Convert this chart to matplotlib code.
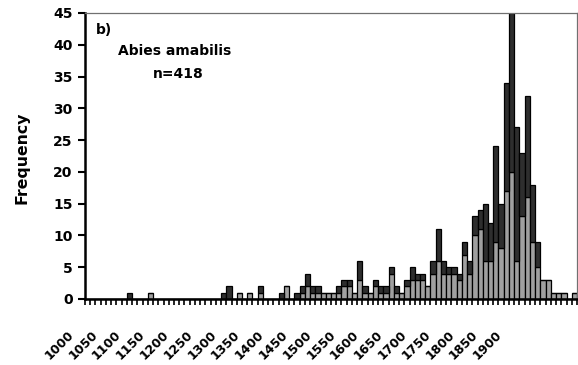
import numpy as np
import matplotlib
matplotlib.use("Agg")
import matplotlib.pyplot as plt
from matplotlib.transforms import ScaledTranslation

# 10-year classes, 1000 ... 1930
decades = np.arange(1000, 1940, 10)

# lower (light grey) part of each bar
light = [0, 0, 0, 0, 0, 0, 0, 0, 0, 0,
         0, 0, 1, 0, 0, 0, 0, 0, 0, 0,
         0, 0, 0, 0, 0, 0, 0, 0, 0, 1,
         0, 1, 0, 1, 0, 0, 0, 0, 2, 0,
         0, 1, 2, 1, 1, 1, 1, 1, 1, 2,
         2, 1, 3, 1, 1, 2, 1, 1, 4, 1,
         1, 2, 3, 3, 3, 2, 4, 6, 4, 4,
         4, 3, 7, 4, 10, 11, 6, 6, 9, 8,
         17, 20, 6, 13, 16, 9, 5, 3, 3, 1,
         1, 1, 0, 1]

# upper (dark grey) part of each bar
dark = [0, 0, 0, 0, 0, 0, 0, 0, 1, 0,
        0, 0, 0, 0, 0, 0, 0, 0, 0, 0,
        0, 0, 0, 0, 0, 0, 1, 2, 0, 0,
        0, 0, 0, 1, 0, 0, 0, 1, 0, 0,
        1, 1, 2, 1, 1, 0, 0, 0, 1, 1,
        1, 0, 3, 1, 0, 1, 1, 1, 1, 1,
        0, 1, 2, 1, 1, 0, 2, 5, 2, 1,
        1, 1, 2, 2, 3, 3, 9, 6, 15, 7,
        17, 25, 21, 10, 16, 9, 4, 0, 0, 0,
        0, 0, 0, 0]

label_years = np.arange(1000, 1901, 50)
y_ticks = np.arange(0, 46, 5)

plt.rcParams["font.family"] = ["DejaVu Sans"]
plt.rcParams["font.weight"] = "bold"

W, H = 578, 365
fig = plt.figure(figsize=(W / 100, H / 100), dpi=100)
ax = fig.add_axes([85 / W, 1 - 299 / H, 492 / W, 286 / H])

x = np.arange(len(decades))
ax.bar(x, light, width=1, align="edge", color="#a0a0a0",
       edgecolor="black", linewidth=0.9)
ax.bar(x, dark, width=1, bottom=light, align="edge", color="#2e2e2e",
       edgecolor="black", linewidth=0.9)

ax.set_xlim(0, len(decades))
ax.set_ylim(0, 45)
ax.set_yticks(y_ticks)
ax.set_yticklabels([str(v) for v in y_ticks], fontsize=10, fontweight="bold")

# tick marks between classes
ax.set_xticks(np.arange(0, len(decades) + 1))
ax.set_xticklabels([])
ax.tick_params(axis="x", direction="out", length=4, width=1.2)
ax.tick_params(axis="y", direction="out", length=5, width=1.5, pad=4)

# year labels sit on their own (slightly compressed) scale, as in the original
y0, y1 = 997.9, 2031.5
n = len(decades)
lab_ax = ax.secondary_xaxis(
    "bottom",
    functions=(lambda i: y0 + i * (y1 - y0) / n,
               lambda yr: (yr - y0) * n / (y1 - y0)))
lab_ax.set_xticks(label_years)
lab_ax.set_xticklabels([str(v) for v in label_years], rotation=45,
                       ha="right", va="top", rotation_mode="anchor",
                       fontsize=9, fontweight="bold")
lab_ax.tick_params(axis="x", length=0, pad=21)
lab_ax.spines["bottom"].set_visible(False)
shift = ScaledTranslation(-19 / 100, 0, fig.dpi_scale_trans)
for lab in lab_ax.get_xticklabels():
    lab.set_transform(lab.get_transform() + shift)

for s in ["left", "bottom"]:
    ax.spines[s].set_linewidth(1.8)
for s in ["top", "right"]:
    ax.spines[s].set_linewidth(0.9)
    ax.spines[s].set_color("#707070")

ax.set_ylabel("Frequency", fontsize=11.3, fontweight="bold")
ax.yaxis.set_label_coords(-0.113, 0.495)

ax.text(0.022, 0.94, "b)", transform=ax.transAxes, fontsize=10,
        fontweight="bold", ha="left", va="center")
ax.text(0.182, 0.867, "Abies amabilis", transform=ax.transAxes, fontsize=10,
        fontweight="bold", ha="center", va="center")
ax.text(0.189, 0.785, "n=418", transform=ax.transAxes, fontsize=10,
        fontweight="bold", ha="center", va="center")

fig.savefig("out.png", dpi=100)
